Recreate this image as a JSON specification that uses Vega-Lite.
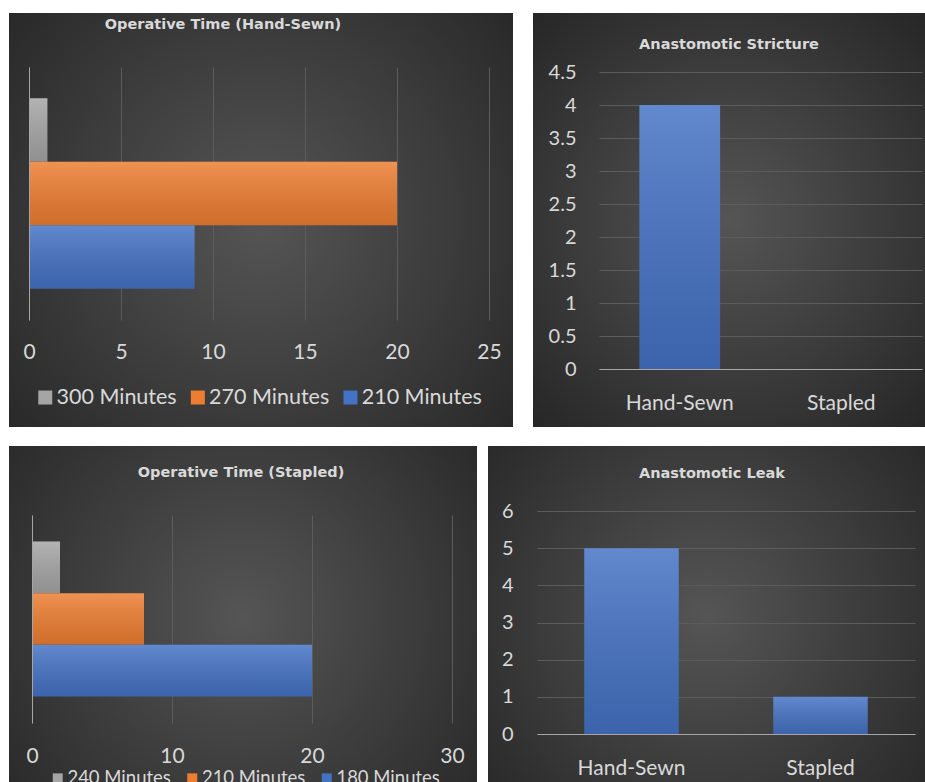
{
  "$schema": "https://vega.github.io/schema/vega-lite/v6.json",
  "background": "#ffffff",
  "padding": {"left": 9, "top": 13, "right": 0, "bottom": 0},
  "spacing": 19,
  "resolve": {"scale": {"color": "independent"}, "legend": {"color": "independent"}},
  "vconcat": [
    {
      "spacing": 20,
      "resolve": {"scale": {"color": "independent"}, "legend": {"color": "independent"}},
      "hconcat": [
        {
          "width": 504,
          "height": 414,
          "title": {"text": "Operative Time (Hand-Sewn)", "offset": -19.4, "dx": -38},
          "data": {"values": [
            {"duration": "300 Minutes", "patients": 1},
            {"duration": "270 Minutes", "patients": 20},
            {"duration": "210 Minutes", "patients": 9}
          ]},
          "encoding": {
            "x": {"field": "patients", "type": "quantitative",
              "scale": {"domain": [0, 25], "range": [20, 480], "nice": false},
              "axis": {"title": null, "orient": "top", "values": [0, 5, 10, 15, 20, 25], "offset": -307, "grid": true, "domain": false, "labelPadding": -21.4, "labelBaseline": "top", "labelFontSize": 21}},
            "y": {"field": "duration", "type": "nominal",
              "scale": {"domain": ["300 Minutes", "270 Minutes", "210 Minutes"], "range": [54, 307], "paddingInner": 0, "paddingOuter": 0.49},
              "axis": {"title": null, "labels": false, "domain": true, "grid": false, "offset": -20, "zindex": 1}}
          },
          "layer": [
            {
              "mark": {"type": "bar"},
              "encoding": {
                "color": {"field": "duration", "type": "nominal",
                  "scale": {"domain": ["300 Minutes", "270 Minutes", "210 Minutes"], "range": ["#a5a5a5", "#ed7d31", "#4472c4"]},
                  "legend": {"title": null, "orient": "none", "direction": "horizontal", "legendX": 25.5, "legendY": 373.4, "symbolSize": 196, "labelFontSize": 21.5, "labelOffset": 0.5, "columnPadding": 9.6}}
              }
            },
            {
              "mark": {"type": "bar", "fill": {"gradient": "linear", "x1": 0, "y1": 0, "x2": 0, "y2": 1, "stops": [{"offset": 0, "color": "rgba(255,255,255,0.16)"}, {"offset": 1, "color": "rgba(0,0,0,0.12)"}]}}
            }
          ]
        },
        {
          "width": 392,
          "height": 414,
          "title": {"text": "Anastomotic Stricture", "offset": -39.1},
          "data": {"values": [
            {"technique": "Hand-Sewn", "patients": 4},
            {"technique": "Stapled", "patients": 0}
          ]},
          "encoding": {
            "x": {"field": "technique", "type": "nominal",
              "scale": {"domain": ["Hand-Sewn", "Stapled"], "range": [66, 389], "paddingInner": 0.5, "paddingOuter": 0.25},
              "axis": {"title": null, "labelAngle": 0, "offset": -58, "domain": true, "grid": false, "labelPadding": 23.5, "labelFontSize": 21, "zindex": 1}},
            "y": {"field": "patients", "type": "quantitative",
              "scale": {"domain": [0, 4.5], "range": [356, 59], "nice": false},
              "axis": {"title": null, "values": [0, 0.5, 1, 1.5, 2, 2.5, 3, 3.5, 4, 4.5], "format": "~g", "offset": -66, "domain": false, "grid": true, "labelPadding": 23, "labelFontSize": 20}}
          },
          "layer": [
            {"mark": {"type": "bar", "color": "#4472c4"}},
            {"mark": {"type": "bar", "fill": {"gradient": "linear", "x1": 0, "y1": 0, "x2": 0, "y2": 1, "stops": [{"offset": 0, "color": "rgba(255,255,255,0.16)"}, {"offset": 1, "color": "rgba(0,0,0,0.12)"}]}}}
          ]
        }
      ]
    },
    {
      "spacing": 11,
      "resolve": {"scale": {"color": "independent"}, "legend": {"color": "independent"}},
      "hconcat": [
        {
          "width": 468,
          "height": 340,
          "title": {"text": "Operative Time (Stapled)", "offset": -34.1, "dx": -2},
          "data": {"values": [
            {"duration": "240 Minutes", "patients": 2},
            {"duration": "210 Minutes", "patients": 8},
            {"duration": "180 Minutes", "patients": 20}
          ]},
          "encoding": {
            "x": {"field": "patients", "type": "quantitative",
              "scale": {"domain": [0, 30], "range": [23, 443], "nice": false},
              "axis": {"title": null, "orient": "top", "values": [0, 10, 20, 30], "offset": -277, "grid": true, "domain": false, "labelPadding": -22.4, "labelBaseline": "top", "labelFontSize": 21}},
            "y": {"field": "duration", "type": "nominal",
              "scale": {"domain": ["240 Minutes", "210 Minutes", "180 Minutes"], "range": [69, 277], "paddingInner": 0, "paddingOuter": 0.51},
              "axis": {"title": null, "labels": false, "domain": true, "grid": false, "offset": -23, "zindex": 1}}
          },
          "layer": [
            {
              "mark": {"type": "bar"},
              "encoding": {
                "color": {"field": "duration", "type": "nominal",
                  "scale": {"domain": ["240 Minutes", "210 Minutes", "180 Minutes"], "range": ["#a5a5a5", "#ed7d31", "#4472c4"]},
                  "legend": {"title": null, "orient": "none", "direction": "horizontal", "legendX": 39.5, "legendY": 323, "symbolSize": 100, "labelFontSize": 18.5, "labelOffset": 0.4, "columnPadding": 11.5}}
              }
            },
            {
              "mark": {"type": "bar", "fill": {"gradient": "linear", "x1": 0, "y1": 0, "x2": 0, "y2": 1, "stops": [{"offset": 0, "color": "rgba(255,255,255,0.16)"}, {"offset": 1, "color": "rgba(0,0,0,0.12)"}]}}
            }
          ]
        },
        {
          "width": 437,
          "height": 340,
          "title": {"text": "Anastomotic Leak", "offset": -35.1, "dx": 5.5},
          "data": {"values": [
            {"technique": "Hand-Sewn", "patients": 5},
            {"technique": "Stapled", "patients": 1}
          ]},
          "encoding": {
            "x": {"field": "technique", "type": "nominal",
              "scale": {"domain": ["Hand-Sewn", "Stapled"], "range": [49, 427], "paddingInner": 0.5, "paddingOuter": 0.25},
              "axis": {"title": null, "labelAngle": 0, "offset": -52, "domain": true, "grid": false, "labelPadding": 23.5, "labelFontSize": 21, "zindex": 1}},
            "y": {"field": "patients", "type": "quantitative",
              "scale": {"domain": [0, 6], "range": [288, 65], "nice": false},
              "axis": {"title": null, "values": [0, 1, 2, 3, 4, 5, 6], "format": "~g", "offset": -49, "domain": false, "grid": true, "labelPadding": 24, "labelFontSize": 20}}
          },
          "layer": [
            {"mark": {"type": "bar", "color": "#4472c4"}},
            {"mark": {"type": "bar", "fill": {"gradient": "linear", "x1": 0, "y1": 0, "x2": 0, "y2": 1, "stops": [{"offset": 0, "color": "rgba(255,255,255,0.16)"}, {"offset": 1, "color": "rgba(0,0,0,0.12)"}]}}}
          ]
        }
      ]
    }
  ],
  "config": {
    "view": {"stroke": null, "fill": {"gradient": "radial", "x1": 0.5, "y1": 0.5, "r1": 0, "x2": 0.5, "y2": 0.5, "r2": 0.72, "stops": [{"offset": 0, "color": "#555555"}, {"offset": 1, "color": "#242424"}]}},
    "axis": {"labelFont": "Lato", "labelColor": "#d9d9d9", "gridColor": "#5c5c5c", "gridWidth": 1, "domainColor": "#a6a6a6", "domainWidth": 1, "ticks": false, "tickSize": 0, "labelFlush": false, "labelOverlap": false},
    "title": {"font": "DejaVu Sans", "fontSize": 14.5, "fontWeight": "bold", "color": "#d9d9d9", "anchor": "middle", "frame": "group", "baseline": "top"},
    "legend": {"labelFont": "Lato", "labelColor": "#d9d9d9", "symbolType": "square", "symbolStrokeWidth": 0, "padding": 0}
  }
}
